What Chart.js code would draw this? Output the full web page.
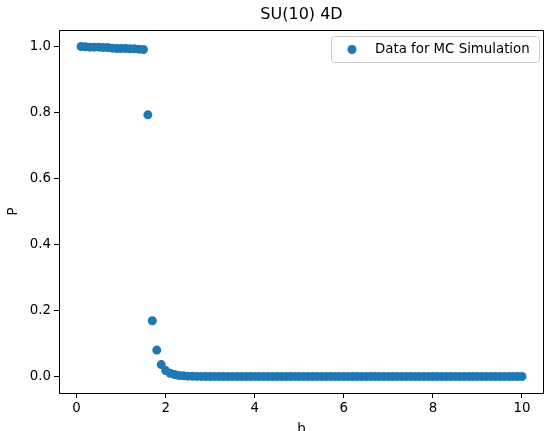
<!DOCTYPE html>
<html>
<head>
<meta charset="utf-8">
<script src="https://cdn.jsdelivr.net/npm/chart.js@4/dist/chart.umd.min.js"></script>
<style>
html,body{margin:0;padding:0;overflow:hidden;background:#fff;}
canvas{display:block;}
</style>
</head>
<body>
<canvas id="c" width="544" height="431"></canvas>
<script>
const titleText = "SU(10) 4D";
const xLabel = "b";
const yLabel = "P";
const seriesLabel = "Data for MC Simulation";
const bValues = [0.1,0.2,0.3,0.4,0.5,0.6,0.7,0.8,0.9,1.0,
  1.1,1.2,1.3,1.4,1.5,1.6,1.7,1.8,1.9,2.0,
  2.1,2.2,2.3,2.4,2.5,2.6,2.7,2.8,2.9,3.0,
  3.1,3.2,3.3,3.4,3.5,3.6,3.7,3.8,3.9,4.0,
  4.1,4.2,4.3,4.4,4.5,4.6,4.7,4.8,4.9,5.0,
  5.1,5.2,5.3,5.4,5.5,5.6,5.7,5.8,5.9,6.0,
  6.1,6.2,6.3,6.4,6.5,6.6,6.7,6.8,6.9,7.0,
  7.1,7.2,7.3,7.4,7.5,7.6,7.7,7.8,7.9,8.0,
  8.1,8.2,8.3,8.4,8.5,8.6,8.7,8.8,8.9,9.0,
  9.1,9.2,9.3,9.4,9.5,9.6,9.7,9.8,9.9,10.0];
const pValues = [1.000,0.999,0.998,0.998,0.998,0.997,0.997,0.995,0.994,0.994,
  0.994,0.993,0.993,0.992,0.991,0.793,0.169,0.080,0.036,0.018,
  0.010,0.006,0.003,0.002,0.001,0.0005,0.0003,0.0002,0.0001,0,
  0,0,0,0,0,0,0,0,0,0,
  0,0,0,0,0,0,0,0,0,0,
  0,0,0,0,0,0,0,0,0,0,
  0,0,0,0,0,0,0,0,0,0,
  0,0,0,0,0,0,0,0,0,0,
  0,0,0,0,0,0,0,0,0,0,
  0,0,0,0,0,0,0,0,0,0];
const xTicks = [0,2,4,6,8,10];
const yTicks = [0.0,0.2,0.4,0.6,0.8,1.0];

const FONT = "'DejaVu Sans', sans-serif";
const BLUE = '#1f77b4';

const framePlugin = {
  id: 'frame',
  afterDraw(chart) {
    const ctx = chart.ctx, a = chart.chartArea;
    ctx.save();
    ctx.strokeStyle = '#000';
    ctx.lineWidth = 1;
    ctx.beginPath();
    ctx.moveTo(a.left, a.top + 0.5);
    ctx.lineTo(a.right, a.top + 0.5);
    ctx.moveTo(a.right - 0.5, a.top);
    ctx.lineTo(a.right - 0.5, a.bottom);
    ctx.stroke();
    // legend
    const bx = 331.5, by = 36.5, bw = 208, bh = 26;
    ctx.beginPath();
    if (ctx.roundRect) ctx.roundRect(bx, by, bw, bh, 3); else ctx.rect(bx, by, bw, bh);
    ctx.fillStyle = 'rgba(255,255,255,0.8)';
    ctx.fill();
    ctx.strokeStyle = '#cccccc';
    ctx.stroke();
    ctx.beginPath();
    ctx.arc(352, 49.5, 4.5, 0, Math.PI * 2);
    ctx.fillStyle = BLUE;
    ctx.fill();
    ctx.fillStyle = '#000';
    ctx.font = '13.33px ' + FONT;
    ctx.textBaseline = 'middle';
    ctx.textAlign = 'left';
    ctx.fillText(chart.data.datasets[0].label, 375, 49.5);
    ctx.restore();
  }
};

new Chart(document.getElementById('c'), {
  type: 'scatter',
  data: {
    datasets: [{
      label: seriesLabel,
      data: bValues.map((x, i) => ({x: x, y: pValues[i]})),
      pointRadius: 4.5,
      pointHoverRadius: 4.5,
      pointBackgroundColor: BLUE,
      pointBorderColor: BLUE,
      pointBorderWidth: 0,
      showLine: false
    }]
  },
  options: {
    responsive: false,
    devicePixelRatio: 1,
    animation: false,
    layout: { autoPadding: false, padding: { left: 0, right: -1, top: 0, bottom: 0 } },
    plugins: {
      legend: { display: false },
      tooltip: { enabled: false },
      title: {
        display: true,
        fullSize: false,
        text: titleText,
        color: '#000',
        font: { family: FONT, size: 16, weight: 'normal', lineHeight: 1.2 },
        padding: { top: 5.2, bottom: 5.6 }
      }
    },
    scales: {
      x: {
        type: 'linear',
        min: -0.395,
        max: 10.495,
        afterFit(s) { s.height = 38; s.paddingLeft = 0; s.paddingRight = 0; },
        afterBuildTicks(s) { s.ticks = xTicks.map(v => ({value: v})); },
        grid: { display: true, drawOnChartArea: false, drawTicks: true, tickLength: 5, tickColor: '#000', lineWidth: 1 },
        border: { display: true, color: '#000', width: 1 },
        ticks: { color: '#000', padding: 3, font: { family: FONT, size: 13.33 }, maxRotation: 0,
          callback: v => String(v) },
        title: { display: true, text: xLabel, color: '#000', font: { family: FONT, size: 13.33, lineHeight: 1.2 },
          padding: { top: 4, bottom: -6.5 } }
      },
      y: {
        type: 'linear',
        min: -0.05,
        max: 1.05,
        afterFit(s) { s.width = 59; s.paddingTop = 0; s.paddingBottom = 0; },
        afterBuildTicks(s) { s.ticks = yTicks.map(v => ({value: v})); },
        grid: { display: true, drawOnChartArea: false, drawTicks: true, tickLength: 5, tickColor: '#000', lineWidth: 1 },
        border: { display: true, color: '#000', width: 1 },
        ticks: { color: '#000', padding: 3, font: { family: FONT, size: 13.33 },
          callback: v => Number(v).toFixed(1) },
        title: { display: true, text: yLabel, color: '#000', font: { family: FONT, size: 13.33, lineHeight: 1.2 },
          padding: { top: 6, bottom: 4 } }
      }
    }
  },
  plugins: [framePlugin]
});
</script>
</body>
</html>
